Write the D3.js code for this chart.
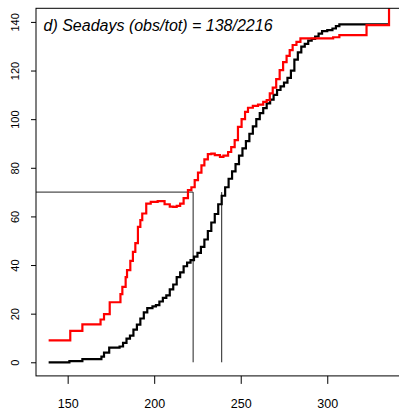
<!DOCTYPE html>
<html>
<head>
<meta charset="utf-8">
<script src="https://cdn.jsdelivr.net/npm/d3@7"></script>
<style>
  body { margin: 0; background: #fff; }
  svg { display: block; font-family: "Liberation Sans", Arial, sans-serif; }
</style>
</head>
<body>
<div id="chart"></div>
<script>
const redDays = [139, 151.5, 158.5, 169, 171, 174.3, 180.5, 181.6, 183.5, 184.3,
  186.2, 187.7, 189.1, 190.6, 192, 193.1, 195.4, 198, 202, 206,
  209, 211, 213, 215, 217, 219.5, 221.5, 223.4, 225.3, 227.3,
  229, 231, 233, 235, 238, 240, 242.7, 244.5, 246.5, 248.4,
  250.5, 252.5, 254.2, 257, 260, 263, 265, 266.8, 268.5, 270.5,
  272.5, 274.5, 276.5, 278.3, 280, 282.2, 284.5, 303.4, 307, 322.7,
  335.7];
const redVals = [9, 12.9, 15.6, 17.6, 19.8, 24.7, 28, 31, 35, 37.9,
  41.7, 45.4, 49, 55.7, 58.5, 61.2, 65.3, 66, 66.3, 65,
  64, 63.9, 64.3, 65.3, 67.5, 70.8, 72, 74.9, 78, 81,
  83.5, 85.6, 85.8, 85.2, 84.5, 85, 86.5, 88.5, 91.4, 96.8,
  100, 103, 104.7, 105.5, 106, 107.1, 107.8, 110.6, 113, 116.5,
  120.2, 123.5, 126, 128.4, 130.5, 131.8, 133.2, 133.7, 134.6, 138.7,
  150];

const blackDays = [139, 151, 158.5, 169.5, 171, 174, 180, 182, 184, 186,
  188, 190, 192, 194, 196, 199, 201, 203, 205, 207,
  209, 211, 213, 215, 217, 219, 221, 223, 225, 227,
  229, 231, 233, 235, 237, 239, 241, 243, 245, 247,
  249, 251, 253, 255, 257, 259, 261, 263, 265, 267,
  269, 271, 273, 275, 277, 279, 281, 283, 285, 287,
  289, 291, 293, 295, 297, 300, 303, 305, 307, 336];
const blackVals = [0, 0.5, 1.3, 2.3, 4, 6, 6.5, 8, 9.7, 11,
  13.4, 15.5, 18, 20.5, 22.3, 23, 23.5, 25, 26.5, 27.5,
  30, 32, 35, 37, 39.5, 41, 42, 43.5, 45, 47.5,
  50.5, 54, 57.5, 61, 65, 68.5, 72, 75.5, 78.5, 81.5,
  85, 88, 91, 94, 97, 100, 102.5, 104.5, 106.5, 108,
  110, 112, 113.5, 115, 117, 120, 124.5, 127.5, 129.8, 131,
  132.3, 133, 134, 135.2, 136.2, 136.6, 137.3, 138.3, 139, 139];

const xTicks = [150, 200, 250, 300];
const yTicks = [0, 20, 40, 60, 80, 100, 120, 140];
const refLevel = 70;
const refDays = [222.5, 239];
const title = "d) Seadays (obs/tot) = 138/2216";

const W = 399, H = 415;
const svg = d3.select("#chart").append("svg")
    .attr("width", W)
    .attr("height", H);

const x = d3.scaleLinear().domain([131.7, 342.5]).range([36, 400.8]);
const y = d3.scaleLinear().domain([-5.6, 145.6]).range([375.9, 8.3]);

svg.append("clipPath").attr("id", "plotclip")
  .append("rect")
    .attr("x", x.range()[0]).attr("y", y.range()[1])
    .attr("width", x.range()[1] - x.range()[0])
    .attr("height", y.range()[0] - y.range()[1]);

// reference lines
const ref = svg.append("g").attr("stroke", "#222").attr("stroke-width", 1).attr("fill", "none");
ref.append("line")
    .attr("x1", x.range()[0]).attr("x2", x(refDays[0]))
    .attr("y1", y(refLevel)).attr("y2", y(refLevel));
refDays.forEach(d => {
  ref.append("line")
      .attr("x1", x(d)).attr("x2", x(d))
      .attr("y1", y(0)).attr("y2", y(refLevel));
});

const line = d3.line()
    .x(d => x(d[0]))
    .y(d => y(d[1]))
    .curve(d3.curveStepAfter);

const blackData = blackDays.map((d, i) => [d, blackVals[i]]);
const redData = redDays.map((d, i) => [d, redVals[i]]);

const curves = svg.append("g").attr("clip-path", "url(#plotclip)");
curves.append("path")
    .datum(blackData)
    .attr("d", line)
    .attr("fill", "none")
    .attr("stroke", "#000")
    .attr("stroke-width", 2.2);
curves.append("path")
    .datum(redData)
    .attr("d", line)
    .attr("fill", "none")
    .attr("stroke", "#ff0000")
    .attr("stroke-width", 2.2);

// box
svg.append("rect")
    .attr("x", x.range()[0]).attr("y", y.range()[1])
    .attr("width", x.range()[1] - x.range()[0])
    .attr("height", y.range()[0] - y.range()[1])
    .attr("fill", "none")
    .attr("stroke", "#000")
    .attr("stroke-width", 1);

// axes
const xAxis = svg.append("g")
    .attr("transform", `translate(0,${y.range()[0]})`)
    .call(d3.axisBottom(x).tickValues(xTicks).tickSize(8).tickSizeOuter(0));
xAxis.select(".domain").remove();
xAxis.selectAll("text")
    .attr("y", 32)
    .attr("dy", null)
    .attr("fill", "#000")
    .style("font-size", "12.5px")
    .style("font-family", "'Liberation Sans', Arial, sans-serif");

const yAxis = svg.append("g")
    .attr("transform", `translate(${x.range()[0]},0)`)
    .call(d3.axisLeft(y).tickValues(yTicks).tickSize(5).tickSizeOuter(0));
yAxis.select(".domain").remove();
yAxis.selectAll("text")
    .attr("x", null)
    .attr("dy", null)
    .attr("text-anchor", "middle")
    .attr("transform", "translate(-17,0) rotate(-90)")
    .attr("fill", "#000")
    .style("font-size", "11px")
    .style("font-family", "'Liberation Sans', Arial, sans-serif");

svg.append("text")
    .attr("x", 43.5)
    .attr("y", 31)
    .style("font-size", "16px")
    .style("font-style", "italic")
    .text(title);
</script>
</body>
</html>
